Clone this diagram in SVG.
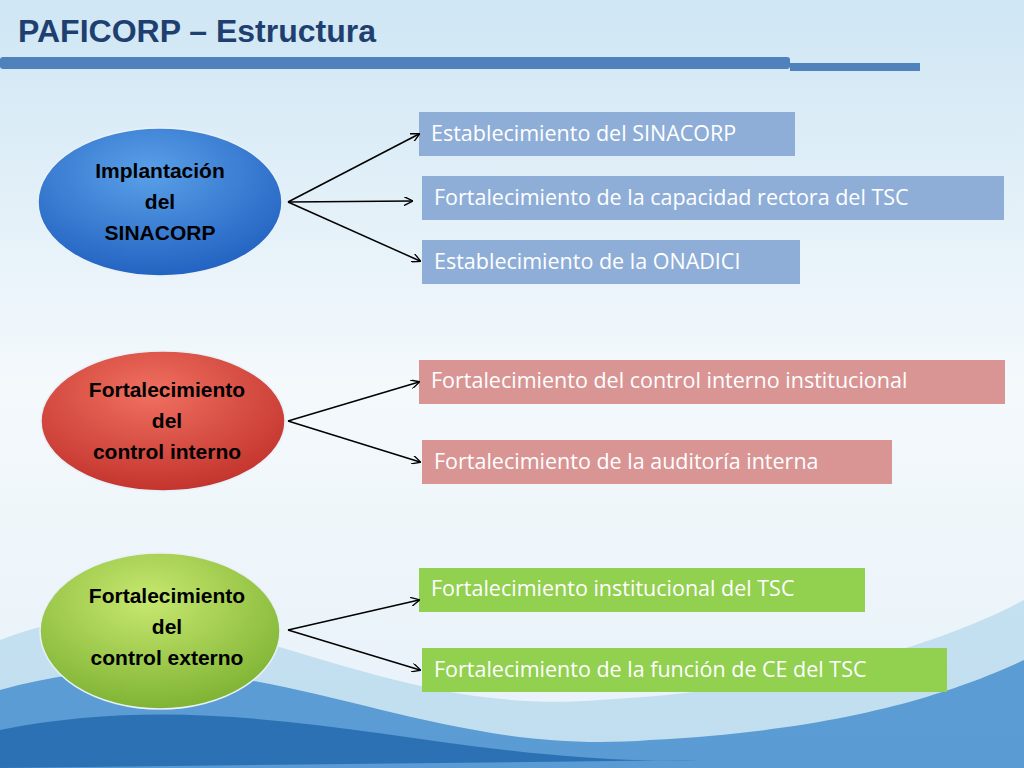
<svg xmlns="http://www.w3.org/2000/svg" width="1024" height="768" viewBox="0 0 1024 768">
<defs>
<linearGradient id="bg" x1="0" y1="0" x2="0" y2="1"><stop offset="0" stop-color="#cfe6f4"/><stop offset="0.5" stop-color="#f4f9fc"/><stop offset="1" stop-color="#e6f1f8"/></linearGradient>
<radialGradient id="gb" cx="0.45" cy="0.3" r="0.75"><stop offset="0" stop-color="#5aa0e8"/><stop offset="1" stop-color="#1f5fbf"/></radialGradient>
<radialGradient id="gr" cx="0.45" cy="0.3" r="0.75"><stop offset="0" stop-color="#f07060"/><stop offset="1" stop-color="#c0302a"/></radialGradient>
<radialGradient id="gg" cx="0.45" cy="0.3" r="0.75"><stop offset="0" stop-color="#c8e870"/><stop offset="1" stop-color="#7ab030"/></radialGradient>
<marker id="ah" viewBox="0 0 10 10" refX="9" refY="5" markerWidth="9" markerHeight="9" orient="auto" markerUnits="userSpaceOnUse"><path d="M0,0 L10,5 L0,10" fill="none" stroke="#000" stroke-width="1.5"/></marker>
</defs>
<style>
.nt{font-family:"Liberation Sans",Arial,sans-serif;font-weight:bold;font-size:21px;text-anchor:middle}
.bt{font-family:"Open Sans","Liberation Sans",sans-serif;font-size:21.5px;fill:#fff}
.c{stroke:#000;stroke-width:1.5;fill:none;marker-end:url(#ah)}
.el{stroke:#e8f0f8;stroke-width:1.5}
</style>
<rect width="1024" height="768" fill="url(#bg)"/>
<path d="M0,640 C200,560 350,720 600,700 C800,690 950,640 1024,600 L1024,768 L0,768Z" fill="#9ccbe8" opacity="0.5"/>
<path d="M0,690 C250,620 400,760 650,740 C850,730 960,690 1024,660 L1024,768 L0,768Z" fill="#2f7fc8" opacity="0.7"/>
<path d="M0,730 C250,680 450,768 700,760 L0,768Z" fill="#1a5fa8" opacity="0.7"/>
<text x="18" y="42" font-family="Liberation Sans,Arial,sans-serif" font-weight="bold" font-size="32" fill="#1f3f70">PAFICORP – Estructura</text>
<rect x="0" y="57" width="790" height="12" fill="#4f81bd" rx="3"/>
<rect x="790" y="63" width="130" height="8" fill="#4f81bd"/>
<g id="n1"><ellipse cx="160" cy="202" rx="122" ry="74" fill="url(#gb)" class="el"/><text class="nt" x="160" y="178">Implantación</text><text class="nt" x="160" y="209">del</text><text class="nt" x="160" y="240">SINACORP</text></g>
<g id="n2"><ellipse cx="163" cy="421" rx="122" ry="70" fill="url(#gr)" class="el"/><text class="nt" x="167" y="397">Fortalecimiento</text><text class="nt" x="167" y="428">del</text><text class="nt" x="167" y="459">control interno</text></g>
<g id="n3"><ellipse cx="160" cy="631" rx="120" ry="78" fill="url(#gg)" class="el"/><text class="nt" x="167" y="603">Fortalecimiento</text><text class="nt" x="167" y="634">del</text><text class="nt" x="167" y="665">control externo</text></g>
<g id="b1"><rect x="419" y="112" width="376" height="44" fill="#8eaed8"/><text class="bt" x="431" y="141">Establecimiento del SINACORP</text></g>
<g id="b2"><rect x="422" y="176" width="582" height="44" fill="#8eaed8"/><text class="bt" x="434" y="205">Fortalecimiento de la capacidad rectora del TSC</text></g>
<g id="b3"><rect x="422" y="240" width="378" height="44" fill="#8eaed8"/><text class="bt" x="434" y="269">Establecimiento de la ONADICI</text></g>
<g id="b4"><rect x="419" y="360" width="586" height="44" fill="#d99594"/><text class="bt" x="431" y="388">Fortalecimiento del control interno institucional</text></g>
<g id="b5"><rect x="422" y="440" width="470" height="44" fill="#d99594"/><text class="bt" x="434" y="469">Fortalecimiento de la auditoría interna</text></g>
<g id="b6"><rect x="419" y="568" width="446" height="44" fill="#92d050"/><text class="bt" x="431" y="596">Fortalecimiento institucional del TSC</text></g>
<g id="b7"><rect x="422" y="648" width="525" height="44" fill="#92d050"/><text class="bt" x="434" y="677">Fortalecimiento de la función de CE del TSC</text></g>
<g id="connectors">
<line class="c" x1="288" y1="202" x2="419" y2="134"/>
<line class="c" x1="288" y1="202" x2="412" y2="201"/>
<line class="c" x1="288" y1="202" x2="420" y2="261"/>
<line class="c" x1="288" y1="421" x2="419" y2="382"/>
<line class="c" x1="288" y1="421" x2="420" y2="462"/>
<line class="c" x1="288" y1="630" x2="419" y2="600"/>
<line class="c" x1="288" y1="630" x2="420" y2="670"/>
</g>
</svg>
